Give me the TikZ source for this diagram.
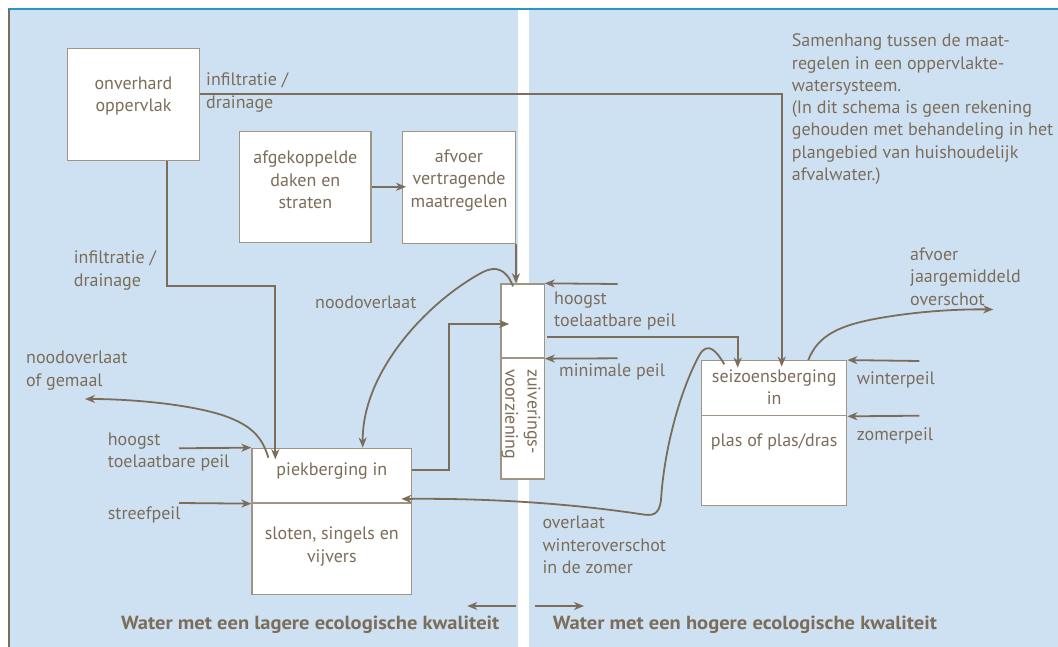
\documentclass[tikz,border=0pt]{standalone}
\usepackage{fontspec}
\setmainfont{PT Sans}
\newfontfamily\widesans[FakeStretch=1.08]{PT Sans}
\usetikzlibrary{arrows.meta}

\definecolor{ink}{HTML}{7C6D5A}
\definecolor{boxline}{HTML}{A09585}
\definecolor{pale}{HTML}{CDE1F3}
\definecolor{topline}{HTML}{2896C8}

\begin{document}
\begin{tikzpicture}[x=1pt,y=-1pt,
  every node/.style={text=ink, font=\fontsize{18}{22.3}\selectfont},
  blk/.style={draw=boxline, line width=1.3pt, fill=white, inner sep=0pt},
  lbl/.style={anchor=west, align=left, inner sep=0pt},
  ctr/.style={align=center, inner sep=0pt},
  boldlbl/.style={anchor=west, inner sep=0pt, font=\widesans\bfseries\fontsize{19}{22.3}\selectfont},
  arr/.style={draw=ink, line width=1.8pt, -{Stealth[length=10pt,width=8pt,inset=3pt]}}
]
\useasboundingbox (0,0) rectangle (1058,647);

% background: panel, white divider stripe, frame lines
\fill[white] (0,0) rectangle (1058,647);
\fill[pale] (9,10) rectangle (1058,647);
\fill[white] (518,10) rectangle (529,647);
\draw[topline, line width=2pt] (8,9.5) -- (1058,9.5);
\draw[ink, line width=2pt] (9,9.5) -- (9,647);

% boxes
\node[blk, minimum width=131.6pt, minimum height=111.6pt] (onv) at (133.5,104.5) {};
\node[blk, minimum width=131.3pt, minimum height=111pt] (afg) at (305.35,186.8) {};
\node[blk, minimum width=112.6pt, minimum height=112pt] (afv) at (459,187.3) {};
\node[blk, minimum width=43.3pt, minimum height=74pt] (zuivtop) at (522.5,321) {};
\node[blk, minimum width=43.3pt, minimum height=121pt] (zuivbot) at (522.5,418.5) {};
\node[blk, minimum width=159.7pt, minimum height=54.7pt] (piektop) at (331.85,475.65) {};
\node[blk, minimum width=159.7pt, minimum height=91.3pt] (piekbot) at (331.85,548.65) {};
\node[blk, minimum width=145pt, minimum height=55pt] (seiztop) at (774.2,388.2) {};
\node[blk, minimum width=145pt, minimum height=90pt] (seizbot) at (774.2,460.7) {};

% box texts
\node[ctr] (onvtxt) at (133.5,96) {onverhard\\oppervlak};
\node[ctr] (afgtxt) at (305.35,180) {afgekoppelde\\daken en\\straten};
\node[ctr] (afvtxt) at (459,180.5) {afvoer\\vertragende\\maatregelen};
\node[lbl, rotate=-90] (zuivtxt) at (521,369) {zuiverings-\\voorziening};
\node[ctr] (piektxt) at (331.85,470.7) {piekberging in};
\node[ctr] (slotxt) at (331.85,546.5) {sloten, singels en\\vijvers};
\node[ctr] (seiztxt) at (774.2,387) {seizoensberging\\in};
\node[ctr] (plastxt) at (774.2,442.3) {plas of plas/dras};

% free labels
\node[lbl] (infa) at (206,92.5) {infiltratie /\\drainage};
\node[lbl] (infb) at (73.7,270.5) {infiltratie /\\drainage};
\node[lbl] (nood) at (315,302.7) {noodoverlaat};
\node[lbl] (noodgem) at (26,370.5) {noodoverlaat\\of gemaal};
\node[lbl] (hoogpiek) at (107.7,451.7) {hoogst\\toelaatbare peil};
\node[lbl] (streef) at (107.7,515) {streefpeil};
\node[lbl] (hoogzuiv) at (554,310.8) {hoogst\\toelaatbare peil};
\node[lbl] (minpeil) at (559,371.7) {minimale peil};
\node[lbl] (overl) at (542.3,545) {overlaat\\winteroverschot\\in de zomer};
\node[lbl] (afjaar) at (910,276.5) {afvoer\\jaargemiddeld\\overschot};
\node[lbl] (winter) at (856.7,380) {winterpeil};
\node[lbl] (zomer) at (856.7,435.7) {zomerpeil};
\node[lbl] (note) at (791.7,109.2) {Samenhang tussen de maat-\\regelen in een oppervlakte-\\watersysteem.\\(In dit schema is geen rekening\\gehouden met behandeling in het\\plangebied van huishoudelijk\\afvalwater.)};
\node[boldlbl] (lager) at (121,625) {Water met een lagere ecologische kwaliteit};
\node[boldlbl] (hoger) at (552.7,625) {Water met een hogere ecologische kwaliteit};

% loose ends of the level arrows
\coordinate (hz) at (617.7,284);
\coordinate (mz) at (617.7,358.3);
\coordinate (hp) at (179,448.3);
\coordinate (sp) at (179,503);
\coordinate (wp) at (919.3,361);
\coordinate (zp) at (919.3,415.7);
\coordinate (ng) at (85,399);
\coordinate (aj) at (993.3,309.5);
\coordinate (lq1) at (516,606);
\coordinate (lq2) at (467.3,606);
\coordinate (hq1) at (535.3,606);
\coordinate (hq2) at (584,606);

% connectors
\draw[arr, shorten >=-6.6pt] ([yshift=10.8pt]onv.east) -| ([xshift=7.5pt]seiztop.north);
\draw[arr, shorten >=-11.7pt] ([xshift=33.2pt]onv.south) |- ++(108.6,125.4) -- ([xshift=-56.55pt]piektop.north);
\draw[arr, shorten >=-4pt] (afg.east) -- (afg.east -| afv.west);
\draw[arr] (afv.south east) -- (afv.south east |- zuivtop.north);
\draw[arr] (hz) -- (zuivtop.north east);
\draw[arr] (mz) -- (zuivtop.south east);
\draw[arr, shorten >=-7.6pt] ([xshift=2.5pt,yshift=-15.7pt]zuivtop.east) -| ([xshift=-36.5pt]seiztop.north);
\draw[arr, shorten >=-9pt] ([yshift=5.7pt]piektop.east) -- ++(36.6,0) |- ([yshift=-3pt]zuivtop.west);
\draw[arr] ([xshift=-9.5pt,yshift=-3pt]zuivtop.north) .. controls (506,268) and (495,266) .. (483,272)
  .. controls (430,300) and (362,370) .. ([xshift=30.9pt]piektop.north);
\draw[arr] ([xshift=-63.5pt,yshift=-10pt]piektop.north) .. controls (262,436) and (250,425) .. (225,416)
  .. controls (190,404) and (130,399) .. (ng);
\draw[arr] (hp) -- (piektop.north west);
\draw[arr] (sp) -- (piektop.south west);
\draw[arr] ([xshift=-49.9pt,yshift=-4.3pt]seiztop.north) .. controls (716,350) and (708,342) .. (700,354)
  .. controls (680,390) and (664,450) .. (661,500)
  .. controls (659,516) and (652,516) .. (640,514)
  .. controls (580,505) and (500,498) .. ([xshift=-11pt,yshift=4.7pt]piektop.south east);
\draw[arr] ([xshift=34.1pt]seiztop.north) .. controls (818,335) and (840,325) .. (880,318)
  .. controls (920,311) and (960,309) .. (aj);
\draw[arr] (wp) -- (seiztop.north east);
\draw[arr] (zp) -- (seiztop.south east);
\draw[arr] (lq1) -- (lq2);
\draw[arr] (hq1) -- (hq2);
\end{tikzpicture}
\end{document}
